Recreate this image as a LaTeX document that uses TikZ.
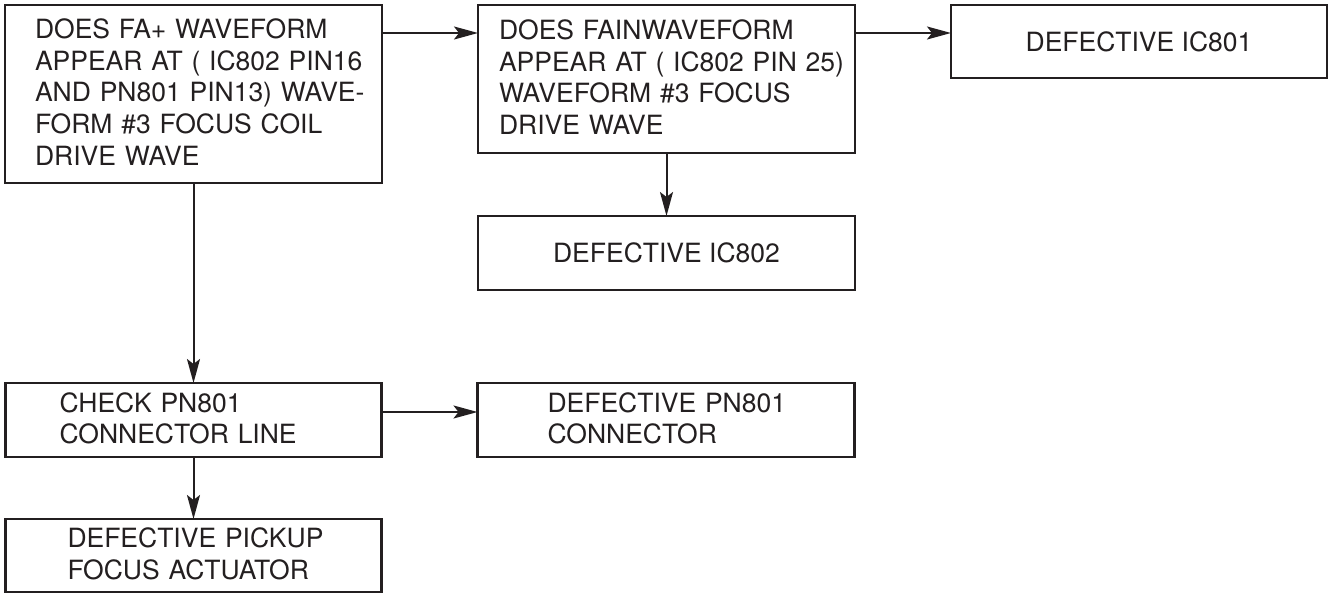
\documentclass[tikz,border=0pt]{standalone}
\usepackage{fontspec}
\setmainfont{TeX Gyre Heros}
\usepackage{tikz}
\usetikzlibrary{positioning, arrows.meta}
\definecolor{ink}{RGB}{35,31,32}

\begin{document}
\begin{tikzpicture}[
  x=1pt, y=1pt,
  font=\fontsize{26.5}{31.7}\selectfont,
  box/.style={draw=ink, text=ink, line width=2.2pt, align=left,
              inner ysep=2pt, outer sep=0pt, minimum height=74pt},
  tbox/.style={box, inner xsep=8pt,
               execute at begin node={\leftskip=#1},
               execute at end node={\rule[-4pt]{0pt}{1pt}}},
  cbox/.style={box, align=center, minimum width=377pt},
  arr/.style={-{Stealth[length=24pt, width=13pt, inset=5pt]}, draw=ink, line width=2pt}
]
\useasboundingbox (0,0) rectangle (1331,-594);

\node[tbox=22pt, text width=361pt, minimum height=178pt] (fa) at (193.5,-94)
  {DOES FA+ WAVEFORM\\ APPEAR AT ( IC802 PIN16\\ AND PN801 PIN13) WAVE-\\ FORM \#3 FOCUS COIL\\ DRIVE WAVE};

\node[tbox=13pt, text width=361pt, minimum height=148pt, anchor=north west] (fain)
  at ([xshift=96pt]fa.north east)
  {DOES FAINWAVEFORM\\ APPEAR AT ( IC802 PIN 25)\\ WAVEFORM \#3 FOCUS\\ DRIVE WAVE};

\node[cbox, minimum width=376pt, minimum height=73pt, anchor=north west] (ic801)
  at ([xshift=96pt]fain.north east) {DEFECTIVE IC801};

\node[cbox, below=63pt of fain] (ic802) {DEFECTIVE IC802};

\node[tbox=46pt, text width=360pt, below=200pt of fa] (chk)
  {CHECK PN801\\ CONNECTOR LINE};

\node[tbox=62pt, text width=361pt, right=96pt of chk] (pn801)
  {DEFECTIVE PN801\\ CONNECTOR};

\node[tbox=54pt, text width=360pt, minimum height=73pt, below=62pt of chk] (pickup)
  {DEFECTIVE PICKUP\\ FOCUS ACTUATOR};

\draw[arr] ([yshift=-28pt]fa.north east) -- ([yshift=-28pt]fain.north west);
\draw[arr] ([yshift=-28pt]fain.north east) -- ([yshift=-28pt]ic801.north west);
\draw[arr] (fain.south) -- (ic802.north);
\draw[arr] (fa.south) -- (chk.north);
\draw[arr] ([yshift=-29pt]chk.north east) -- ([yshift=-29pt]pn801.north west);
\draw[arr] (chk.south) -- (pickup.north);

\end{tikzpicture}
\end{document}
